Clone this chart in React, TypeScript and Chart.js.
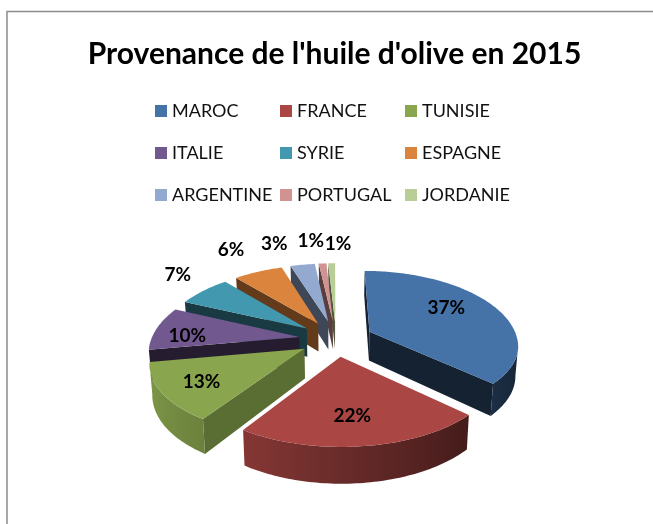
import React, { useEffect, useRef } from "react";
import { Chart, registerables } from "chart.js";

Chart.register(...registerables);

const categories = ["MAROC", "FRANCE", "TUNISIE", "ITALIE", "SYRIE", "ESPAGNE", "ARGENTINE", "PORTUGAL", "JORDANIE"];
const shares = [37.1, 22, 13, 9.5, 6.9, 6.4, 3.2, 1, 0.9];
const sliceColors = ["#4572A7", "#AA4643", "#89A54E", "#71588F", "#4198AF", "#DB843D", "#93A9CF", "#D19392", "#B9CD96"];
const titleText = "Provenance de l'huile d'olive en 2015";

// projection of the tilted pie
const CX = 336, CY = 339, R = 148, EXPLODE = 37, TILT = 0.46, FAR_STRETCH = 1.08, PERSP = 0.00115, DEPTH = 29;
const radialShade = [0.3, 0.5, 0.66, 0.33, 0.38, 0.45, 0.42, 0.42, 0.42];
const labelRadius = [0.6, 0.55, 0.55, 0.62, 1.2, 1.2, 1.2, 1.2, 1.2];
const labelDx = [1, 0, -28, -23, -7, -17, -24, -10, 7];
const labelDy = [-8, 14, 10, 4, -9, -13, -11, -13, -10];

function project(X: number, Y: number) {
  const p = 1 / (1 - PERSP * Y);
  return { x: CX + X * p, y: CY + Y * TILT * p * (Y < 0 ? FAR_STRETCH : 1), p };
}
function shade(hex: string, f: number) {
  const n = parseInt(hex.slice(1), 16);
  const c = [(n >> 16) & 255, (n >> 8) & 255, n & 255].map((v) => Math.round(v * f));
  return `rgb(${c[0]},${c[1]},${c[2]})`;
}

const frame = {
  id: "frame",
  beforeDraw(chart: any) {
    const { ctx, width, height } = chart;
    ctx.save();
    ctx.fillStyle = "#fff";
    ctx.fillRect(0, 0, width, height);
    ctx.strokeStyle = "#8c8c8c";
    ctx.lineWidth = 1.5;
    ctx.beginPath();
    ctx.moveTo(7, height);
    ctx.lineTo(7, 11.5);
    ctx.lineTo(width, 11.5);
    ctx.stroke();
    ctx.restore();
  },
};

const gridLegend = {
  id: "gridLegend",
  afterDraw(chart: any) {
    const { ctx } = chart;
    const labels = chart.data.labels as string[];
    const colors = chart.data.datasets[0].backgroundColor as string[];
    ctx.save();
    ctx.font = "18px Lato";
    ctx.textBaseline = "middle";
    ctx.textAlign = "left";
    labels.forEach((t, i) => {
      const x = 155 + (i % 3) * 125;
      const y = 111 + Math.floor(i / 3) * 42;
      ctx.fillStyle = colors[i];
      ctx.fillRect(x, y - 6, 12, 12);
      ctx.fillStyle = "#111";
      ctx.fillText(t, x + 17, y);
    });
    ctx.restore();
  },
};

const pie3d = {
  id: "pie3d",
  beforeDatasetsDraw(chart: any) {
    const { ctx } = chart;
    const arcs = chart.getDatasetMeta(0).data as any[];
    const order = arcs
      .map((a, i) => ({ a, i, mid: (a.startAngle + a.endAngle) / 2 }))
      .sort((u, v) => Math.sin(u.mid) - Math.sin(v.mid));
    ctx.save();
    for (const { a, i, mid } of order) {
      const color: string = a.options.backgroundColor;
      const ox = Math.cos(mid) * EXPLODE, oy = Math.sin(mid) * EXPLODE;
      const pts: any[] = [{ ...project(ox, oy) }];
      const steps = Math.max(2, Math.ceil((a.endAngle - a.startAngle) / 0.02));
      for (let s = 0; s <= steps; s++) {
        const t = a.startAngle + ((a.endAngle - a.startAngle) * s) / steps;
        pts.push({ ...project(ox + Math.cos(t) * R, oy + Math.sin(t) * R), t });
      }
      const low = (q: any) => ({ x: CX + (q.x - CX) * 0.985, y: q.y + DEPTH * q.p });
      // straight side walls: edges running leftward on screen face the viewer
      const wall: any[] = [];
      for (let k = 0; k < pts.length; k++) {
        const P = pts[k], Q = pts[(k + 1) % pts.length];
        if (Q.x - P.x >= 0) continue;
        const outer = P.t !== undefined && Q.t !== undefined;
        if (outer) {
          if (!wall.length) wall.push(P);
          wall.push(Q);
          continue;
        }
        const a1 = low(P), b1 = low(Q);
        ctx.fillStyle = shade(color, radialShade[i]);
        ctx.beginPath();
        ctx.moveTo(P.x, P.y);
        ctx.lineTo(Q.x, Q.y);
        ctx.lineTo(b1.x, b1.y);
        ctx.lineTo(a1.x, a1.y);
        ctx.closePath();
        ctx.fill();
      }
      // curved outer wall, shaded from dark (right) to light (left)
      if (wall.length > 1) {
        const xs = wall.map((q) => q.x);
        const minX = Math.min(...xs), maxX = Math.max(...xs);
        const g = ctx.createLinearGradient(minX, 0, maxX, 0);
        wall.forEach((q) => {
          g.addColorStop((q.x - minX) / Math.max(1, maxX - minX), shade(color, 0.62 - 0.3 * Math.cos(q.t)));
        });
        ctx.fillStyle = g;
        ctx.beginPath();
        wall.forEach((q, k) => (k ? ctx.lineTo(q.x, q.y) : ctx.moveTo(q.x, q.y)));
        [...wall].reverse().forEach((q) => {
          const b = low(q);
          ctx.lineTo(b.x, b.y);
        });
        ctx.closePath();
        ctx.fill();
      }
      ctx.fillStyle = color;
      ctx.beginPath();
      pts.forEach((q, k) => (k ? ctx.lineTo(q.x, q.y) : ctx.moveTo(q.x, q.y)));
      ctx.closePath();
      ctx.fill();
    }
    // percentage labels
    ctx.font = "bold 19px Lato";
    ctx.textAlign = "center";
    ctx.textBaseline = "middle";
    ctx.fillStyle = "#000";
    arcs.forEach((a, i) => {
      const mid = (a.startAngle + a.endAngle) / 2;
      const rr = EXPLODE + R * labelRadius[i];
      const q = project(Math.cos(mid) * rr, Math.sin(mid) * rr);
      ctx.fillText(`${Math.round(shares[i])}%`, q.x + labelDx[i], q.y + labelDy[i]);
    });
    ctx.restore();
    return false;
  },
};

export default function App() {
  const ref = useRef<HTMLCanvasElement>(null);
  useEffect(() => {
    document.body.style.margin = "0";
    const chart = new Chart(ref.current!, {
      type: "pie",
      data: {
        labels: categories,
        datasets: [{ data: shares, backgroundColor: sliceColors, borderWidth: 0 }],
      },
      options: {
        responsive: false,
        animation: false,
        layout: { padding: { left: 16 } },
        plugins: {
          legend: { display: false },
          tooltip: { enabled: false },
          title: {
            display: true,
            text: titleText,
            color: "#000",
            font: { family: "Lato", size: 30, weight: "bold" },
            padding: { top: 36, bottom: 10 },
          },
        },
      },
      plugins: [frame, gridLegend, pie3d],
    } as any);
    return () => chart.destroy();
  }, []);
  return <canvas ref={ref} width={653} height={524} style={{ display: "block", width: 653, height: 524 }} />;
}
